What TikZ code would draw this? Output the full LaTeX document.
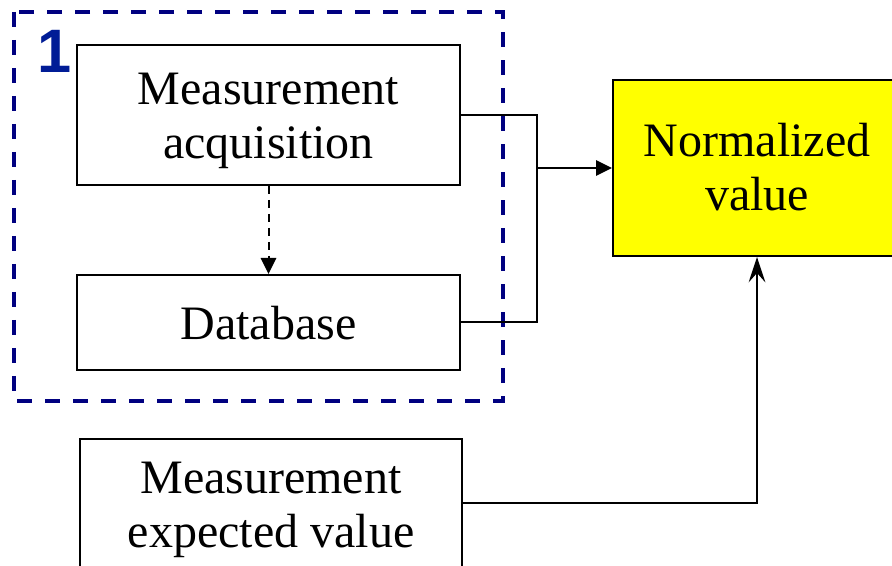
\documentclass[tikz,border=0pt]{standalone}
\usepackage{fontspec}
\setmainfont{Liberation Serif}
\newfontfamily\digitfont{Liberation Sans}
\usetikzlibrary{arrows.meta}
\definecolor{groupblue}{RGB}{0,0,128}
\definecolor{labelblue}{RGB}{0,28,150}
\definecolor{boxyellow}{RGB}{255,255,0}
% centred lines of text, lowered a little inside their box
\newcommand\blocktext[2][4.65pt]{%
  \raisebox{-#1}[\height][\depth]{\begin{tabular}{@{}c@{}}#2\end{tabular}}}
\tikzset{
  block/.style={draw=black, line width=1.5pt, inner sep=0pt,
    font=\fontsize{36}{40.5}\selectfont},
  wire/.style={draw=black, line width=1.5pt},
  tip/.style={-{Triangle[length=12pt,width=11.5pt]}},
  uptip/.style={-{Stealth[length=19pt,width=12.5pt,inset=7pt]}},
  groupframe/.style={draw=groupblue, line width=2.8pt, dash pattern=on 11.25pt off 9.75pt},
}
\begin{document}
\begin{tikzpicture}[x=0.75pt, y=-0.75pt]
  \useasboundingbox (0,0) rectangle (892,566);
  \clip (0,0) rectangle (892,566);

  % group frame with its number
  \draw[groupframe] (14,12) rectangle (503,401);
  \node[anchor=base, text=labelblue, font=\digitfont\bfseries\fontsize{46}{46}\selectfont, inner sep=0pt]
    (grouplabel) at (55,73) {1};

  % blocks
  \node[block, minimum width=287.25pt, minimum height=105pt] (acq) at (268.5,115)
    {\blocktext{Measurement\\acquisition}};
  \node[block, minimum width=287.25pt, minimum height=71.25pt] (db) at (268.5,322.5)
    {\blocktext[5pt]{Database}};
  \node[block, fill=boxyellow, minimum width=216pt, minimum height=132pt] (norm) at (757,168)
    {\blocktext[3.9pt]{Normalized\\value}};
  \node[block, minimum width=286.5pt, minimum height=96pt] (exp) at (271,503)
    {\blocktext{Measurement\\expected value}};

  % connectors
  \coordinate (j) at (537,168);
  \draw[wire, dash pattern=on 6pt off 4.5pt, tip] (acq.south) -- (db.north);
  \draw[wire] (acq.east) -| (j) |- (db.east);
  \draw[wire, tip] (j) -- (norm.west);
  \draw[wire, uptip] (exp.east) -| (norm.south);
\end{tikzpicture}
\end{document}
